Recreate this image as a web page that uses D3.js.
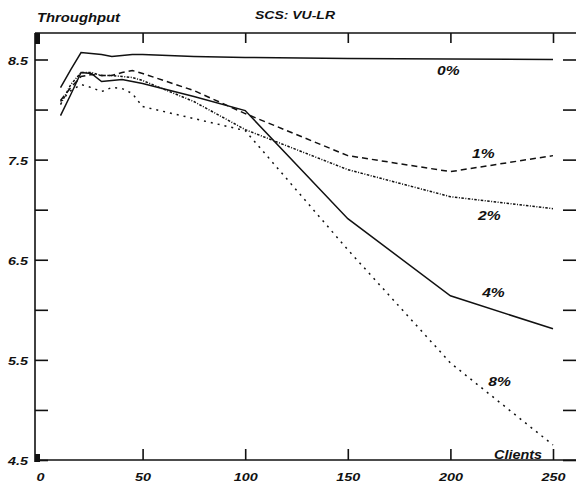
<!DOCTYPE html>
<html>
<head>
<meta charset="utf-8">
<script src="https://cdn.jsdelivr.net/npm/d3@7"></script>
<style>
  body { margin: 0; background: #fff; }
  svg text { font-family: "Liberation Sans", Arial, sans-serif; font-weight: bold; font-style: italic; fill: #111; }
</style>
</head>
<body>
<div id="chart"></div>
<script>
// clients on the x axis, throughput per loss rate
const clients = [10, 15, 20, 25, 30, 35, 40, 45, 50, 75, 100, 150, 200, 250];
const loss0 = [8.22, 8.40, 8.57, 8.56, 8.55, 8.53, 8.54, 8.55, 8.55, 8.53, 8.52, 8.51, 8.505, 8.50];
const loss1 = [8.09, 8.22, 8.33, 8.35, 8.34, 8.34, 8.37, 8.39, 8.36, 8.19, 7.96, 7.54, 7.38, 7.54];
const loss2 = [8.05, 8.25, 8.37, 8.37, 8.34, 8.34, 8.33, 8.32, 8.29, 8.08, 7.80, 7.40, 7.13, 7.01];
const loss4 = [7.94, 8.15, 8.37, 8.36, 8.28, 8.29, 8.30, 8.28, 8.26, 8.13, 7.99, 6.91, 6.14, 5.81];
const loss8 = [8.08, 8.19, 8.25, 8.22, 8.18, 8.22, 8.21, 8.16, 8.03, 7.91, 7.79, 6.60, 5.47, 4.65];

const seriesNames = ['0%', '1%', '2%', '4%', '8%'];
const seriesValues = [loss0, loss1, loss2, loss4, loss8];
const seriesDash = [null, '6,4', '2.5,1.5,1,1.5', null, '2,5'];

const xTicks = [0, 50, 100, 150, 200, 250];
const yTicks = [4.5, 5, 5.5, 6, 6.5, 7, 7.5, 8, 8.5];

// where the series names sit, in data units
const labelX = [199, 216, 219, 221, 224];
const labelY = [8.35, 7.52, 6.90, 6.13, 5.24];

const width = 576, height = 484;
const frameL = 35, frameR = 576, frameT = 33, frameB = 460;

const x = d3.scaleLinear().domain([0, 250]).range([40, 553]);
const y = d3.scaleLinear().domain([4.5, 8.5]).range([460, 59.5]);

const svg = d3.select('#chart').append('svg')
  .attr('width', width)
  .attr('height', height);

// the scanned glyphs are wider than they are tall
const stretch = (sel, k) => sel.each(function() {
  const len = this.getComputedTextLength();
  d3.select(this).attr('textLength', len * k).attr('lengthAdjust', 'spacingAndGlyphs');
});

// frame
const frame = svg.append('g').attr('stroke', '#111').attr('stroke-width', 1.6);
frame.append('line').attr('x1', frameL).attr('x2', frameL).attr('y1', frameT).attr('y2', frameB + 2);
frame.append('line').attr('x1', frameL).attr('x2', frameR).attr('y1', frameT).attr('y2', frameT);
frame.append('line').attr('x1', frameL).attr('x2', frameR).attr('y1', frameB).attr('y2', frameB);

// scan blobs in the corners
svg.append('rect').attr('x', frameL).attr('y', frameT).attr('width', 5).attr('height', 11).attr('fill', '#111');
svg.append('rect').attr('x', frameL).attr('y', frameB - 6).attr('width', 5).attr('height', 8).attr('fill', '#111');

const fmt = d => (d % 1 === 0.5) ? d3.format('.1f')(d) : '';

const yAxisL = svg.append('g')
  .attr('transform', 'translate(' + frameL + ',0)')
  .call(d3.axisLeft(y).tickValues(yTicks).tickSize(-13).tickSizeOuter(0).tickPadding(7).tickFormat(fmt));

const yAxisR = svg.append('g')
  .attr('transform', 'translate(' + frameR + ',0)')
  .call(d3.axisRight(y).tickValues(yTicks).tickSize(-13).tickSizeOuter(0).tickFormat(''));

const xAxisB = svg.append('g')
  .attr('transform', 'translate(0,' + frameB + ')')
  .call(d3.axisBottom(x).tickValues(xTicks).tickSize(-11).tickSizeOuter(0).tickFormat(d3.format('d')));

const xAxisT = svg.append('g')
  .attr('transform', 'translate(0,' + frameT + ')')
  .call(d3.axisTop(x).tickValues(xTicks.slice(1)).tickSize(-10).tickSizeOuter(0).tickFormat(''));

[yAxisL, yAxisR, xAxisB, xAxisT].forEach(g => {
  g.select('.domain').remove();
  g.selectAll('.tick line').attr('stroke', '#111').attr('stroke-width', 1.6);
  g.selectAll('text')
    .style('font-family', '"Liberation Sans", Arial, sans-serif')
    .style('font-weight', 'bold')
    .style('font-style', 'italic')
    .attr('font-size', 11.5)
    .attr('fill', '#111');
});
xAxisB.select('.tick line').remove();
xAxisB.selectAll('text').attr('y', 13).attr('dy', '0.71em').call(stretch, 1.25);
yAxisL.selectAll('text').attr('dy', '0.4em').call(stretch, 1.25);

// curves
const line = d3.line()
  .x((d, i) => x(clients[i]))
  .y(d => y(d));

svg.append('g')
  .selectAll('path')
  .data(seriesValues)
  .enter()
  .append('path')
  .attr('d', line)
  .attr('fill', 'none')
  .attr('stroke', '#111')
  .attr('stroke-width', 1.5)
  .attr('stroke-dasharray', (d, i) => seriesDash[i]);

// series names
svg.append('g')
  .selectAll('text')
  .data(seriesNames)
  .enter()
  .append('text')
  .attr('x', (d, i) => x(labelX[i]))
  .attr('y', (d, i) => y(labelY[i]))
  .attr('text-anchor', 'middle')
  .attr('font-size', 12)
  .text(d => d)
  .call(stretch, 1.3);

svg.append('text').attr('x', 37).attr('y', 22).attr('font-size', 12)
  .attr('textLength', 83).attr('lengthAdjust', 'spacingAndGlyphs').text('Throughput');
svg.append('text').attr('x', 255).attr('y', 19).attr('font-size', 11.5)
  .attr('textLength', 80).attr('lengthAdjust', 'spacingAndGlyphs').text('SCS: VU-LR');
svg.append('text').attr('x', 494).attr('y', 459).attr('font-size', 12)
  .attr('textLength', 48).attr('lengthAdjust', 'spacingAndGlyphs').text('Clients');
</script>
</body>
</html>
